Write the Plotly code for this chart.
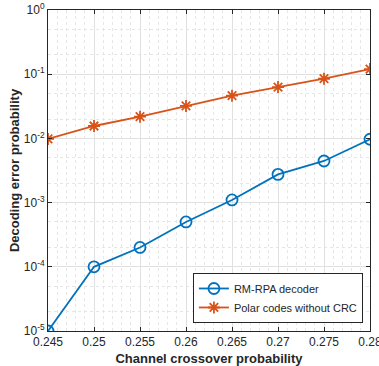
import plotly.graph_objects as go

crossover = [0.245, 0.25, 0.255, 0.26, 0.265, 0.27, 0.275, 0.28]
rm_rpa = [1.0e-5, 1.0e-4, 2.0e-4, 5.0e-4, 1.1e-3, 2.75e-3, 4.45e-3, 9.7e-3]
polar_no_crc = [0.0098, 0.0156, 0.0218, 0.032, 0.0463, 0.063, 0.085, 0.12]
x_ticks = [0.245, 0.25, 0.255, 0.26, 0.265, 0.27, 0.275, 0.28]
x_tick_labels = ["0.245", "0.25", "0.255", "0.26", "0.265", "0.27", "0.275", "0.28"]
y_ticks = [1e-5, 1e-4, 1e-3, 1e-2, 1e-1, 1e0]
y_tick_labels = ["10<sup>-5</sup>", "10<sup>-4</sup>", "10<sup>-3</sup>",
                 "10<sup>-2</sup>", "10<sup>-1</sup>", "10<sup>0</sup>"]

blue = "#0072BD"
orange = "#D95319"
font_family = "Liberation Sans, Arial, sans-serif"

fig = go.Figure()
fig.add_trace(go.Scatter(
    x=crossover, y=rm_rpa, mode="lines+markers", name="RM-RPA decoder",
    line=dict(color=blue, width=1.8),
    marker=dict(symbol="circle-open", size=11, color=blue, line=dict(width=1.8, color=blue)),
))
fig.add_trace(go.Scatter(
    x=crossover, y=polar_no_crc, mode="lines+markers", name="Polar codes without CRC",
    line=dict(color=orange, width=1.8),
    marker=dict(symbol="asterisk-open", size=10, color=orange, line=dict(width=1.8, color=orange)),
))

axis_common = dict(
    showline=True, linecolor="#262626", linewidth=1, mirror="ticks",
    ticks="inside", ticklen=4, tickcolor="#262626",
    showgrid=True, gridcolor="#E0E0E0", gridwidth=1,
    zeroline=False, automargin=False,
    tickfont=dict(family=font_family, size=12, color="#262626"),
)

fig.update_xaxes(
    range=[0.245, 0.28], tickvals=x_ticks, ticktext=x_tick_labels,
    ticklabeloverflow="allow",
    title=dict(text="<b>Channel crossover probability</b>",
               font=dict(family=font_family, size=13, color="#262626")),
    minor=dict(dtick=0.001, showgrid=True, gridcolor="#E6E6E6", griddash="dot", ticks=""),
    **axis_common,
)
fig.update_yaxes(
    type="log", range=[-5, 0], tickvals=y_ticks, ticktext=y_tick_labels,
    ticklabeloverflow="allow",
    title=dict(text="<b>Decoding error probability</b>", standoff=1,
               font=dict(family=font_family, size=13, color="#262626")),
    minor=dict(showgrid=True, gridcolor="#E6E6E6", griddash="dot", ticks=""),
    **axis_common,
)

fig.update_layout(
    width=379, height=366,
    margin=dict(l=48, r=9, t=10, b=35),
    paper_bgcolor="white", plot_bgcolor="white",
    showlegend=True,
    legend=dict(
        x=0.978, y=0.025, xanchor="right", yanchor="bottom",
        bgcolor="white", bordercolor="#262626", borderwidth=1,
        font=dict(family=font_family, size=11, color="#262626"),
        tracegroupgap=0, itemwidth=30,
    ),
)

fig.write_html("out.html", config={"displayModeBar": False},
               post_script="document.body.style.margin='0px';")
